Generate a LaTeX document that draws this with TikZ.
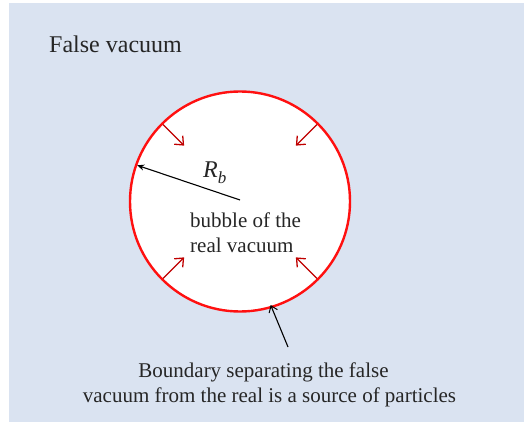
\documentclass[tikz,border=0pt]{standalone}
\usepackage{fontspec}
\setmainfont{Liberation Serif}
\newfontfamily\tnr{Liberation Serif}
\usetikzlibrary{arrows.meta}
\definecolor{bgblue}{HTML}{DAE3F1}
\definecolor{wallred}{HTML}{FF1010}
\definecolor{arrred}{HTML}{C00000}
\tikzset{
  wall/.style={draw=wallred, line width=2.4pt, fill=white},
  inarrow/.style={draw=arrred, line width=1.3pt, -{Straight Barb[length=7pt,width=12pt,line width=1.3pt]}},
  radarrow/.style={draw=black, line width=1.1pt, -{Stealth[length=7pt,width=6pt]}},
  ptrarrow/.style={draw=black, line width=1.1pt, -{Straight Barb[length=6pt,width=9pt,line width=1pt]}},
  lbl/.style={inner sep=0pt, text=black!85},
  big/.style={font=\tnr\fontsize{24}{28}\selectfont},
  mid/.style={font=\tnr\fontsize{21}{25}\selectfont}
}
\begin{document}
\begin{tikzpicture}[x=1pt,y=-1pt]
\useasboundingbox (0,0) rectangle (524,422);
\fill[bgblue] (9,3) rectangle (524,422);
\coordinate (c) at (240,201.5);
\draw[wall] (c) circle (110);
% inward arrows
\draw[inarrow] ([shift={(-135:108.8)}]c) -- ([shift={(-135:79)}]c);
\draw[inarrow] ([shift={(-45:108.8)}]c) -- ([shift={(-45:79)}]c);
\draw[inarrow] ([shift={(135:108.8)}]c) -- ([shift={(135:79)}]c);
\draw[inarrow] ([shift={(45:108.8)}]c) -- ([shift={(45:79)}]c);
% radius
\coordinate (ctr) at (240,200);
\coordinate (rim) at ([shift={(-160.6:109)}]c);
\draw[radarrow] (ctr) -- (rim);
\node[lbl, anchor=base west, font=\tnr\fontsize{24}{28}\selectfont] (rb) at (203,178) {\itshape R\raisebox{-0.22em}{\fontsize{17}{17}\selectfont b}};
% texts
\node[lbl, anchor=base west, big] (fv) at (49,53) {False vacuum};
\node[lbl, anchor=base west, mid] (bub1) at (190,227) {bubble of the};
\node[lbl, anchor=base west, mid] (bub2) at (190,252) {real vacuum};
\node[lbl, anchor=base, mid] (bd1) at (263.5,377) {Boundary separating the false};
\node[lbl, anchor=base, mid] (bd2) at (269.5,402) {vacuum from the real is a source of particles};
% pointer
\coordinate (ptail) at (288,347);
\coordinate (ptip) at ([shift={(73.5:108)}]c);
\draw[ptrarrow] (ptail) -- (ptip);
\end{tikzpicture}
\end{document}
